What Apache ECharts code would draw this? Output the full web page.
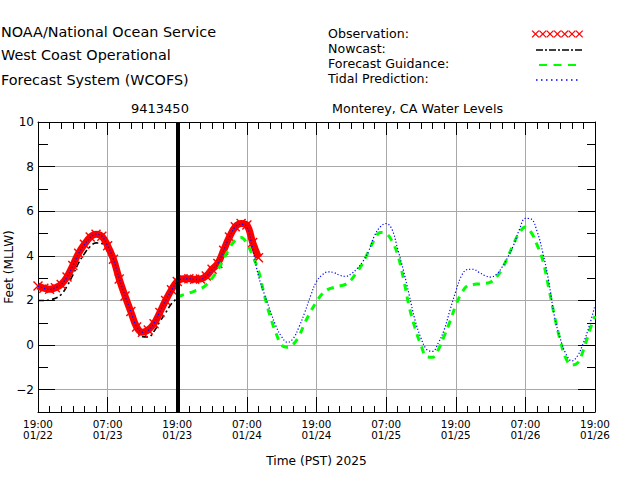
<!DOCTYPE html>
<html><head><meta charset="utf-8">
<script src="https://cdn.jsdelivr.net/npm/echarts@6/dist/echarts.min.js"></script>
<style>html,body{margin:0;padding:0;background:#fff}#c{width:630px;height:500px}</style>
</head><body><div id="c"></div>
<script>
// ---- data (hours after 19:00 01/22 PST, feet MLLW) ----
const xTickLabels = ['19:00\n01/22','07:00\n01/23','19:00\n01/23','07:00\n01/24','19:00\n01/24','07:00\n01/25','19:00\n01/25','07:00\n01/26','19:00\n01/26'];
const yTickValues = [-2, 0, 2, 4, 6, 8, 10];
const nowcastEnd = 24;

const observationStart = 0;
const observation = [2.65, 2.55, 2.5, 2.57, 2.72, 3.05, 3.57, 4.12, 4.52, 4.84, 4.97, 4.88, 4.45, 3.85, 2.96, 2.2, 1.5, 0.81, 0.57, 0.68, 0.96, 1.46, 2.0, 2.48, 2.85, 2.97, 2.97, 2.95, 2.96, 3.1, 3.4, 3.66, 4.25, 4.85, 5.3, 5.45, 5.38, 4.6, 3.92];

const nowcastStart = 0;
const nowcast = [2.0, 2.0, 2.03, 2.1, 2.27, 2.64, 3.14, 3.68, 4.1, 4.42, 4.58, 4.55, 4.18, 3.6, 2.82, 2.05, 1.33, 0.67, 0.38, 0.36, 0.62, 1.05, 1.45, 1.85, 2.1];

const forecastStart = 24;
const forecast = [2.15, 2.25, 2.33, 2.42, 2.52, 2.7, 3.0, 3.37, 3.85, 4.35, 4.7, 4.82, 4.55, 4.0, 3.33, 2.25, 1.3, 0.55, 0.0, -0.1, 0.04, 0.42, 1.0, 1.5, 1.95, 2.3, 2.5, 2.58, 2.65, 2.72, 2.93, 3.3, 3.68, 4.22, 4.74, 5.05, 5.0, 4.67, 4.05, 2.96, 1.7, 0.75, 0.0, -0.52, -0.55, -0.2, 0.4, 1.05, 1.78, 2.33, 2.66, 2.72, 2.74, 2.76, 2.82, 3.05, 3.42, 3.97, 4.55, 5.05, 5.29, 5.05, 4.5, 3.8, 2.6, 1.33, 0.22, -0.6, -0.9, -0.8, -0.22, 0.6, 1.3];

const tidalStart = 0;
const tidal = [2.65, 2.55, 2.5, 2.57, 2.72, 3.05, 3.55, 4.1, 4.5, 4.82, 4.97, 4.88, 4.45, 3.85, 2.98, 2.2, 1.5, 0.82, 0.58, 0.66, 0.98, 1.5, 2.0, 2.45, 2.85, 2.97, 2.97, 2.95, 2.95, 3.08, 3.38, 3.65, 4.25, 4.85, 5.3, 5.42, 5.3, 4.3,
  3.1, 2.3, 1.56, 0.86, 0.37, 0.12, 0.3, 0.82, 1.48, 2.22, 2.85, 3.15, 3.28, 3.25, 3.13, 3.08, 3.2, 3.43, 3.75, 4.22, 4.9, 5.3, 5.45,
  5.19, 4.3, 3.33, 2.22, 1.1, 0.32, -0.2, -0.28, 0.1, 0.68, 1.56, 2.4, 3.11, 3.39, 3.4, 3.26, 3.12, 3.05, 3.17, 3.5, 3.95, 4.5, 5.2, 5.68, 5.65, 5.11, 4.15, 2.9, 1.3, 0.3, -0.4, -0.71, -0.48, 0.1, 0.85, 1.78];

function pairs(start, arr) { return arr.map((v, i) => [start + i, v]); }

const FONT = '"DejaVu Sans", sans-serif';
const chart = echarts.init(document.getElementById('c'), null, {renderer: 'svg'});

function txt(x, y, s, size) {
  return {type: 'text', x: x, y: y, silent: true,
    style: {text: s, fill: '#000', font: size + 'px ' + FONT, verticalAlign: 'middle', align: 'left'}};
}
const graphics = [
  txt(1, 32, 'NOAA/National Ocean Service', 14.4),
  txt(1, 55, 'West Coast Operational', 14.4),
  txt(1, 80, 'Forecast System (WCOFS)', 14.4),
  txt(328, 33.5, 'Observation:', 12.6),
  txt(328, 48, 'Nowcast:', 12.6),
  txt(328, 63, 'Forecast Guidance:', 12.6),
  txt(328, 78, 'Tidal Prediction:', 12.6),
  txt(131, 108, '9413450', 13),
  txt(332, 108, 'Monterey, CA Water Levels', 12.7),
  {type: 'line', silent: true, shape: {x1: 536, y1: 50, x2: 582, y2: 50}, style: {stroke: '#000', lineWidth: 1.5, lineDash: [7, 2, 2, 2]}},
  {type: 'line', silent: true, shape: {x1: 539, y1: 65, x2: 576, y2: 65}, style: {stroke: '#00ff00', lineWidth: 2, lineDash: [8, 6.5]}},
  {type: 'line', silent: true, shape: {x1: 536, y1: 80, x2: 579, y2: 80}, style: {stroke: '#0000ff', lineWidth: 1.5, lineDash: [1.5, 3.5]}}
];
for (let i = 0; i < 7; i++) {
  const cx = 535.5 + i * 7.3, cy = 34, r = 3.4;
  graphics.push({type: 'line', silent: true, shape: {x1: cx - r, y1: cy - r, x2: cx + r, y2: cy + r}, style: {stroke: '#ff0000', lineWidth: 1.3}});
  graphics.push({type: 'line', silent: true, shape: {x1: cx - r, y1: cy + r, x2: cx + r, y2: cy - r}, style: {stroke: '#ff0000', lineWidth: 1.3}});
}

const xBase = {
  type: 'value', min: 0, max: 96, interval: 12,
  axisLine: {show: true, onZero: false, lineStyle: {color: '#000', width: 1}},
  axisTick: {show: true, inside: true, length: 15, lineStyle: {color: '#000', width: 1}},
  minorTick: {show: true, splitNumber: 6, length: 6, lineStyle: {color: '#000', width: 1}},
  splitLine: {show: false},
  axisLabel: {show: false}
};
const yEven = {
  type: 'value', min: -3, max: 10,
  axisLine: {show: true, onZero: false, lineStyle: {color: '#000', width: 1}},
  axisTick: {show: true, inside: true, length: 17, customValues: yTickValues, lineStyle: {color: '#000', width: 1}},
  splitLine: {show: false},
  axisLabel: {show: false}
};
const yAll = {
  type: 'value', min: -3, max: 10, interval: 1,
  axisLine: {show: false, onZero: false},
  axisTick: {show: true, inside: true, length: 10, lineStyle: {color: '#000', width: 1}},
  splitLine: {show: false},
  axisLabel: {show: false}
};

const xSymbol = 'path://M0,1L1,0L5,4L9,0L10,1L6,5L10,9L9,10L5,6L1,10L0,9L4,5Z';

chart.setOption({
  animation: false,
  backgroundColor: '#fff',
  textStyle: {fontFamily: FONT},
  grid: {left: 38, top: 122, width: 557, height: 290, containLabel: false, outerBoundsMode: 'none'},
  graphic: graphics,
  xAxis: [
    Object.assign({}, xBase, {
      position: 'bottom',
      splitLine: {show: true, lineStyle: {color: '#a8a8a8', width: 1}},
      axisLabel: {show: true, color: '#000', fontSize: 10.4, fontFamily: FONT, lineHeight: 10.5, margin: 7,
        formatter: v => xTickLabels[Math.round(v / 12)] || ''},
      name: 'Time (PST) 2025', nameLocation: 'middle', nameGap: 43, nameMoveOverlap: false,
      nameTextStyle: {color: '#000', fontSize: 12.2, fontFamily: FONT}
    }),
    Object.assign({}, xBase, {position: 'top',
      axisTick: {show: true, inside: true, length: 13, lineStyle: {color: '#000', width: 1}},
      minorTick: {show: true, splitNumber: 6, length: 7, lineStyle: {color: '#000', width: 1}}})
  ],
  yAxis: [
    Object.assign({}, yEven, {
      position: 'left',
      splitLine: {show: true, lineStyle: {color: '#a8a8a8', width: 1}},
      axisLabel: {show: true, customValues: yTickValues, color: '#000', fontSize: 12, fontFamily: FONT, margin: 4,
        formatter: v => (v < 0 ? '\u2212' + Math.abs(v) : String(v))},
      name: 'Feet (MLLW)', nameLocation: 'middle', nameGap: 23, nameRotate: 90, nameMoveOverlap: false,
      nameTextStyle: {color: '#000', fontSize: 12, fontFamily: FONT}
    }),
    Object.assign({}, yAll, {position: 'left'}),
    Object.assign({}, yEven, {position: 'right'}),
    Object.assign({}, yAll, {position: 'right', axisTick: {show: true, inside: true, length: 8, lineStyle: {color: '#000', width: 1}}})
  ],
  series: [
    {
      name: 'Nowcast', type: 'line', xAxisIndex: 0, yAxisIndex: 0, z: 2,
      data: pairs(nowcastStart, nowcast), smooth: 0.4, showSymbol: false,
      lineStyle: {color: '#000', width: 1.6, type: [6, 3, 2, 3]}
    },
    {
      name: 'Observation', type: 'line', xAxisIndex: 0, yAxisIndex: 0, z: 3,
      data: pairs(observationStart, observation), smooth: 0.4,
      symbol: xSymbol, symbolSize: 10, showSymbol: true, showAllSymbol: true,
      itemStyle: {color: '#ff0000'},
      lineStyle: {color: '#ff0000', width: 7}
    },
    {
      name: 'Forecast Guidance', type: 'line', xAxisIndex: 0, yAxisIndex: 0, z: 4,
      data: pairs(forecastStart, forecast), smooth: 0.4, showSymbol: false,
      lineStyle: {color: '#00ff00', width: 3, type: [7, 6]}
    },
    {
      name: 'Tidal Prediction', type: 'line', xAxisIndex: 0, yAxisIndex: 0, z: 5,
      data: pairs(tidalStart, tidal), smooth: 0.4, showSymbol: false,
      lineStyle: {color: '#0000ff', width: 1.2, type: [1.2, 2]}
    },
    {
      name: 'cut', type: 'line', xAxisIndex: 0, yAxisIndex: 0, z: 10, data: [],
      markLine: {silent: true, symbol: ['none', 'none'], label: {show: false},
        lineStyle: {color: '#000', width: 4, type: 'solid'},
        data: [{xAxis: nowcastEnd}]}
    }
  ]
});
</script></body></html>
